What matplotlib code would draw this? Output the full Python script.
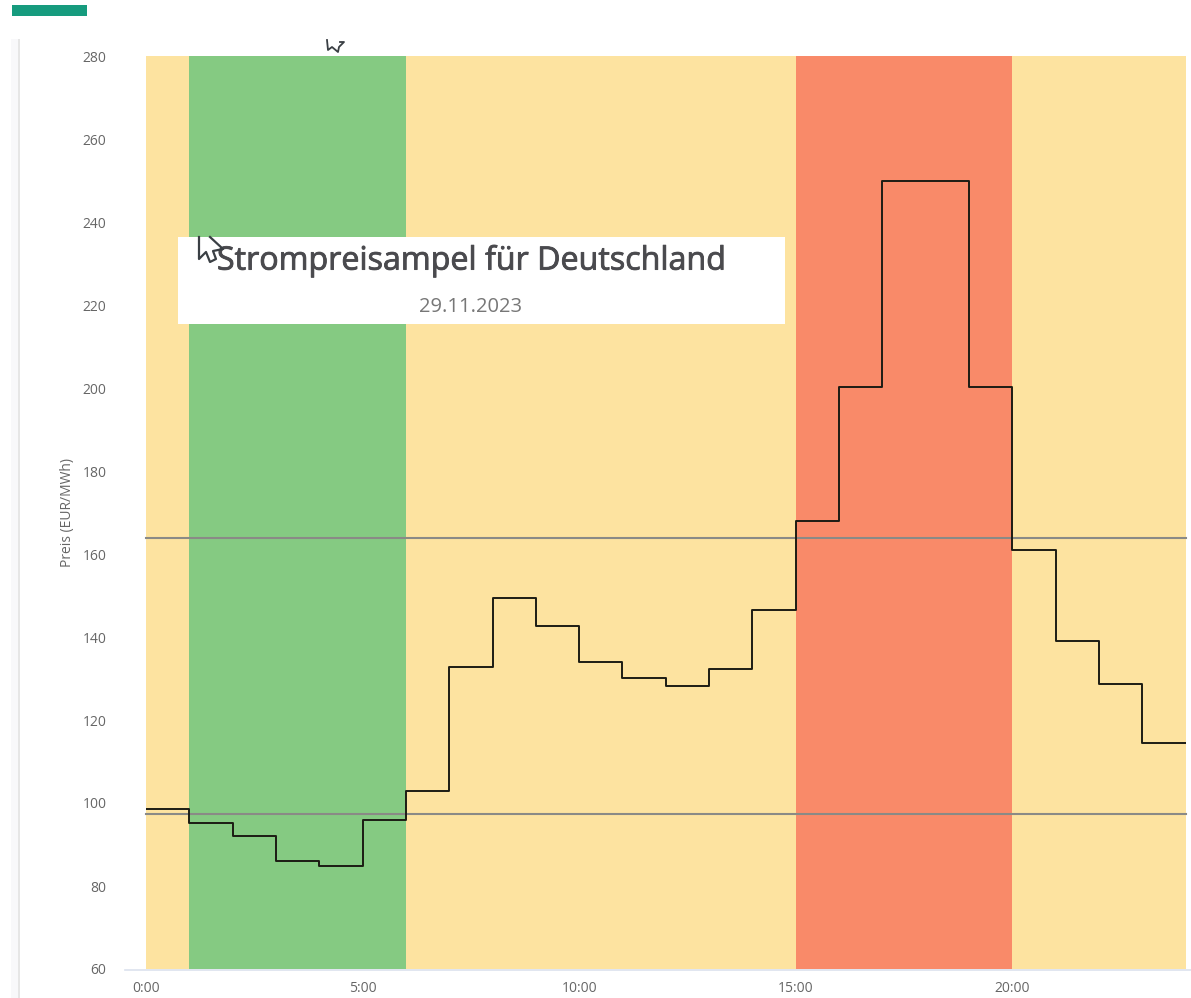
import matplotlib.pyplot as plt
import matplotlib.patheffects as pe
from matplotlib.patches import Rectangle

plt.rcParams['font.family'] = ['Open Sans', 'DejaVu Sans']

W, H = 1191, 998

# Hourly price
hours = list(range(24))
prices = [98.5, 95.2, 92.0, 86.0, 84.8, 95.9, 102.9, 132.8, 149.4, 142.6, 134.0, 130.1,
          128.2, 132.3, 146.5, 168.0, 200.2, 250.0, 250.0, 200.2, 161.0, 139.0, 128.7, 114.5]

# Traffic light bands (start hour, end hour, colour)
band_starts = [0, 1, 6, 15, 20]
band_ends = [1, 6, 15, 20, 24]
band_colors = ['#fde3a0', '#85ca82', '#fde3a0', '#f98a69', '#fde3a0']

# Grey reference lines
ref_lines = [163.9, 97.3]

xtick_pos = [0, 5, 10, 15, 20]
xtick_labels = ['0:00', '5:00', '10:00', '15:00', '20:00']
ytick_pos = list(range(60, 281, 20))

title = 'Strompreisampel für Deutschland'
subtitle = '29.11.2023'
ylabel = 'Preis (EUR/MWh)'


def px_rect(x0, y0, x1, y1):
    # pixel box (y down) to figure fractions
    return [x0 / W, 1 - y1 / H, (x1 - x0) / W, (y1 - y0) / H]


def add_rect(x0, y0, x1, y1, color, z=5):
    fig.add_artist(Rectangle((x0 / W, 1 - y1 / H), (x1 - x0) / W, (y1 - y0) / H,
                             transform=fig.transFigure, facecolor=color, edgecolor='none', zorder=z))


def add_cursor(points, width, z=12):
    # outline of a mouse pointer left in the screenshot
    xs = [p[0] / W for p in points]
    ys = [1 - p[1] / H for p in points]
    fig.add_artist(plt.Line2D(xs, ys, transform=fig.transFigure, color='#3a3f44',
                              linewidth=width, zorder=z))


fig = plt.figure(figsize=(W / 100, H / 100), dpi=100)
ax = fig.add_axes(px_rect(146, 56, 1185.5, 969))

for start, end, color in zip(band_starts, band_ends, band_colors):
    ax.axvspan(start, end, color=color, linewidth=0, zorder=1)

for val in ref_lines:
    ax.axhline(val, color='#8a8a86', linewidth=1.5, zorder=2, clip_on=False)

ax.step(hours + [24], prices + [prices[-1]], where='post', color='#1c1c14', linewidth=1.4, zorder=3)

ax.set_xlim(0, 24)
ax.set_ylim(60, 280)
ax.set_xticks(xtick_pos)
ax.set_xticklabels(xtick_labels)
ax.set_yticks(ytick_pos)
ax.tick_params(axis='both', length=0, labelsize=10, labelcolor='#666666')
ax.tick_params(axis='x', pad=8.5)
ax.tick_params(axis='y', pad=28.5)
ax.set_ylabel(ylabel, fontsize=10, color='#666666', labelpad=5.5)
for side in ax.spines:
    ax.spines[side].set_visible(False)

# Axis base line runs past the plot on both sides
fig.add_artist(plt.Line2D([125 / W, 1191 / W], [1 - 969.5 / H] * 2, transform=fig.transFigure,
                          color='#dbe2ee', linewidth=1.2, zorder=4))

# Page furniture from the screenshot
add_rect(12, 5, 87, 16, '#169b7e')
add_rect(11, 39, 18, 998, '#f8f8fa')
add_rect(18, 39, 20, 998, '#e6e6e6')

# Pasted title box on top of the chart
add_rect(178, 237, 785, 324, 'white', z=10)
title_text = fig.text(471.5 / W, 1 - 261 / H, title, fontsize=23.2, color='#4a4a4e',
                      ha='center', va='center', zorder=11)
title_text.set_path_effects([pe.withStroke(linewidth=0.6, foreground='#4a4a4e')])
fig.text(471 / W, 1 - 307 / H, subtitle, fontsize=14.5, color='#777777', ha='center', va='center', zorder=11)

add_cursor([(199, 237), (199, 259), (206, 252), (210, 262), (216, 259), (213, 251), (223, 249), (210, 237)], 1.6)
add_cursor([(327, 40), (328, 50), (332, 47), (338, 52), (339, 47), (344, 42), (340, 42)], 1.3)

fig.savefig('out.png', dpi=100)
